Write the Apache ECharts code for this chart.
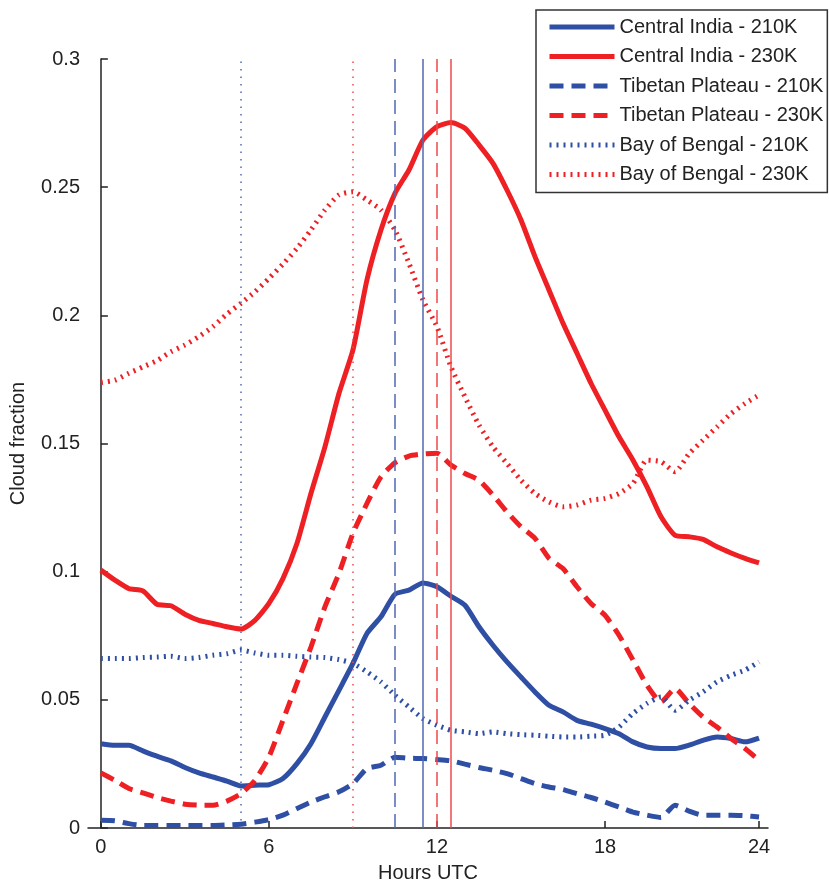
<!DOCTYPE html>
<html>
<head>
<meta charset="utf-8">
<script src="https://cdn.jsdelivr.net/npm/echarts@6/dist/echarts.min.js"></script>
<style>
  html, body { margin: 0; padding: 0; background: #fff; }
  #chart { width: 829px; height: 881px; }
</style>
</head>
<body>
<div id="chart"></div>
<script>
// half-hourly time steps (hours UTC)
var hours = [0, 0.5, 1, 1.5, 2, 2.5, 3, 3.5, 4, 4.5, 5, 5.5, 6, 6.5, 7, 7.5, 8, 8.5, 9, 9.5,
  10, 10.5, 11, 11.5, 12, 12.5, 13, 13.5, 14, 14.5, 15, 15.5, 16, 16.5, 17, 17.5, 18, 18.5, 19, 19.5,
  20, 20.5, 21, 21.5, 22, 22.5, 23, 23.5];

// x ticks: the last tick sits on the last sample but is labelled 24
var xTickValues = [0, 6, 12, 18, 23.5];
var xTickLabels = ['0', '6', '12', '18', '24'];

var seriesNames = ['Central India - 210K', 'Central India - 230K', 'Tibetan Plateau - 210K',
  'Tibetan Plateau - 230K', 'Bay of Bengal - 210K', 'Bay of Bengal - 230K'];

var centralIndia210 = [0.0329, 0.0323, 0.0323, 0.0301, 0.0280, 0.0262, 0.0236, 0.0215, 0.0199, 0.0183,
  0.0164, 0.0167, 0.0169, 0.0193, 0.0251, 0.0329, 0.0433, 0.0537, 0.0642, 0.0759,
  0.0824, 0.0912, 0.0928, 0.0956, 0.0941, 0.0904, 0.0869, 0.0785, 0.0713, 0.0648,
  0.0589, 0.0531, 0.0479, 0.0453, 0.0420, 0.0405, 0.0388, 0.0368, 0.0336, 0.0316,
  0.0310, 0.0310, 0.0323, 0.0342, 0.0355, 0.0349, 0.0336, 0.0351];
var centralIndia230 = [0.1006, 0.0967, 0.0934, 0.0925, 0.0873, 0.0867, 0.0834, 0.0810, 0.0798, 0.0785,
  0.0776, 0.0810, 0.0876, 0.0973, 0.1110, 0.1305, 0.1487, 0.1695, 0.1865, 0.2138,
  0.2333, 0.2476, 0.2567, 0.2684, 0.2736, 0.2752, 0.2730, 0.2665, 0.2593, 0.2489,
  0.2372, 0.2229, 0.2099, 0.1969, 0.1852, 0.1735, 0.1630, 0.1526, 0.1435, 0.1331,
  0.1214, 0.1142, 0.1136, 0.1126, 0.1097, 0.1073, 0.1052, 0.1034];
var tibet210 = [0.0030, 0.0028, 0.0017, 0.0010, 0.0010, 0.0010, 0.0010, 0.0010, 0.0010, 0.0012,
  0.0015, 0.0023, 0.0033, 0.0050, 0.0076, 0.0101, 0.0122, 0.0141, 0.0173, 0.0232,
  0.0245, 0.0276, 0.0272, 0.0271, 0.0267, 0.0262, 0.0249, 0.0236, 0.0225, 0.0212,
  0.0193, 0.0173, 0.0160, 0.0150, 0.0134, 0.0119, 0.0101, 0.0082, 0.0062, 0.0050,
  0.0041, 0.0089, 0.0066, 0.0050, 0.0050, 0.0050, 0.0048, 0.0043];
var tibet230 = [0.0215, 0.0186, 0.0154, 0.0137, 0.0119, 0.0105, 0.0093, 0.0089, 0.0089, 0.0105,
  0.0134, 0.0186, 0.0277, 0.0420, 0.0564, 0.0706, 0.0863, 0.0993, 0.1149, 0.1266,
  0.1370, 0.1425, 0.1451, 0.1459, 0.1462, 0.1416, 0.1383, 0.1357, 0.1299, 0.1233,
  0.1175, 0.1130, 0.1052, 0.1012, 0.0941, 0.0876, 0.0830, 0.0752, 0.0655, 0.0557,
  0.0492, 0.0544, 0.0486, 0.0433, 0.0394, 0.0349, 0.0310, 0.0264];
var bengal210 = [0.0661, 0.0661, 0.0661, 0.0665, 0.0667, 0.0670, 0.0661, 0.0665, 0.0674, 0.0680,
  0.0694, 0.0683, 0.0674, 0.0674, 0.0670, 0.0667, 0.0665, 0.0657, 0.0642, 0.0609,
  0.0570, 0.0518, 0.0472, 0.0427, 0.0401, 0.0381, 0.0375, 0.0368, 0.0375, 0.0368,
  0.0364, 0.0362, 0.0358, 0.0355, 0.0355, 0.0358, 0.0362, 0.0394, 0.0447, 0.0486,
  0.0511, 0.0459, 0.0498, 0.0531, 0.0570, 0.0596, 0.0616, 0.0648];
var bengal230 = [0.1738, 0.1747, 0.1774, 0.1799, 0.1823, 0.1858, 0.1884, 0.1917, 0.1956, 0.2005,
  0.2047, 0.2092, 0.2144, 0.2200, 0.2261, 0.2333, 0.2411, 0.2470, 0.2482, 0.2450,
  0.2411, 0.2333, 0.2203, 0.2060, 0.1956, 0.1799, 0.1682, 0.1572, 0.1487, 0.1422,
  0.1357, 0.1305, 0.1272, 0.1253, 0.1260, 0.1279, 0.1286, 0.1305, 0.1344, 0.1435,
  0.1429, 0.1390, 0.1460, 0.1513, 0.1565, 0.1617, 0.1656, 0.1689];

// hour of maximum for each series (vertical marker lines)
var peakHours = [11.5, 12.5, 10.5, 12, 5, 9];

var blue = '#2e4fa3';
var red = '#ee2024';
var blueThin = '#5068b2';
var redThin = '#f04848';
var font = "'Liberation Sans', Arial, sans-serif";

var allValues = [centralIndia210, centralIndia230, tibet210, tibet230, bengal210, bengal230];
var colors = [blue, red, blue, red, blue, red];
var thinColors = [blueThin, redThin, blueThin, redThin, blueThin, redThin];
var curveTypes = ['solid', 'solid', [14, 8], [14, 8], [2, 5], [2, 5]];
var markTypes = ['solid', 'solid', [14, 7], [14, 7], [1.5, 6], [1.5, 6]];

var series = allValues.map(function (vals, i) {
  return {
    name: seriesNames[i],
    type: 'line',
    data: hours.map(function (h, j) { return [h, vals[j]]; }),
    symbol: 'none',
    smooth: 0.2,
    color: colors[i],
    lineStyle: { width: 5, type: curveTypes[i], cap: 'butt', color: colors[i] },
    markLine: {
      silent: true,
      symbol: 'none',
      animation: false,
      label: { show: false },
      lineStyle: { color: thinColors[i], width: 1.5, type: markTypes[i] },
      data: [{ xAxis: peakHours[i] }]
    }
  };
});

var legendItems = seriesNames.map(function (name, i) {
  return {
    name: name,
    itemStyle: { opacity: 0 },
    lineStyle: { width: 5, type: curveTypes[i], cap: 'butt', color: colors[i] }
  };
});

var myChart = echarts.init(document.getElementById('chart'));

myChart.setOption({
  animation: false,
  backgroundColor: '#fff',
  textStyle: { fontFamily: font },
  grid: { left: 88, right: 61, top: 59, bottom: 53, containLabel: false, outerBoundsMode: 'none' },
  legend: {
    orient: 'vertical',
    left: 536,
    top: 10,
    padding: [7, 4, 8, 11],
    itemWidth: 65,
    itemHeight: 12,
    itemGap: 9.5,
    backgroundColor: '#fff',
    borderColor: '#333',
    borderWidth: 1.5,
    borderRadius: 0,
    itemStyle: { opacity: 0 },
    textStyle: { fontSize: 20, color: '#222', fontFamily: font },
    data: legendItems
  },
  xAxis: {
    type: 'value',
    min: -0.46,
    max: 23.82,
    name: 'Hours UTC',
    nameLocation: 'middle',
    nameGap: 35,
    nameTextStyle: { fontSize: 20, color: '#222' },
    splitLine: { show: false },
    axisLine: { lineStyle: { color: '#222', width: 1.5 } },
    axisTick: { inside: true, length: 7, customValues: xTickValues, lineStyle: { color: '#222', width: 1.5 } },
    axisLabel: {
      customValues: xTickValues,
      margin: 9,
      fontSize: 20,
      color: '#222',
      formatter: function (v) { return xTickLabels[xTickValues.indexOf(v)]; }
    }
  },
  yAxis: {
    type: 'value',
    min: 0,
    max: 0.3,
    interval: 0.05,
    name: 'Cloud fraction',
    nameLocation: 'middle',
    nameGap: 60,
    nameTextStyle: { fontSize: 20, color: '#222' },
    splitLine: { show: false },
    axisLine: { show: true, lineStyle: { color: '#222', width: 1.5 } },
    axisTick: { show: true, inside: true, length: 7, lineStyle: { color: '#222', width: 1.5 } },
    axisLabel: { margin: 8, fontSize: 20, color: '#222' }
  },
  series: series
});
</script>
</body>
</html>
